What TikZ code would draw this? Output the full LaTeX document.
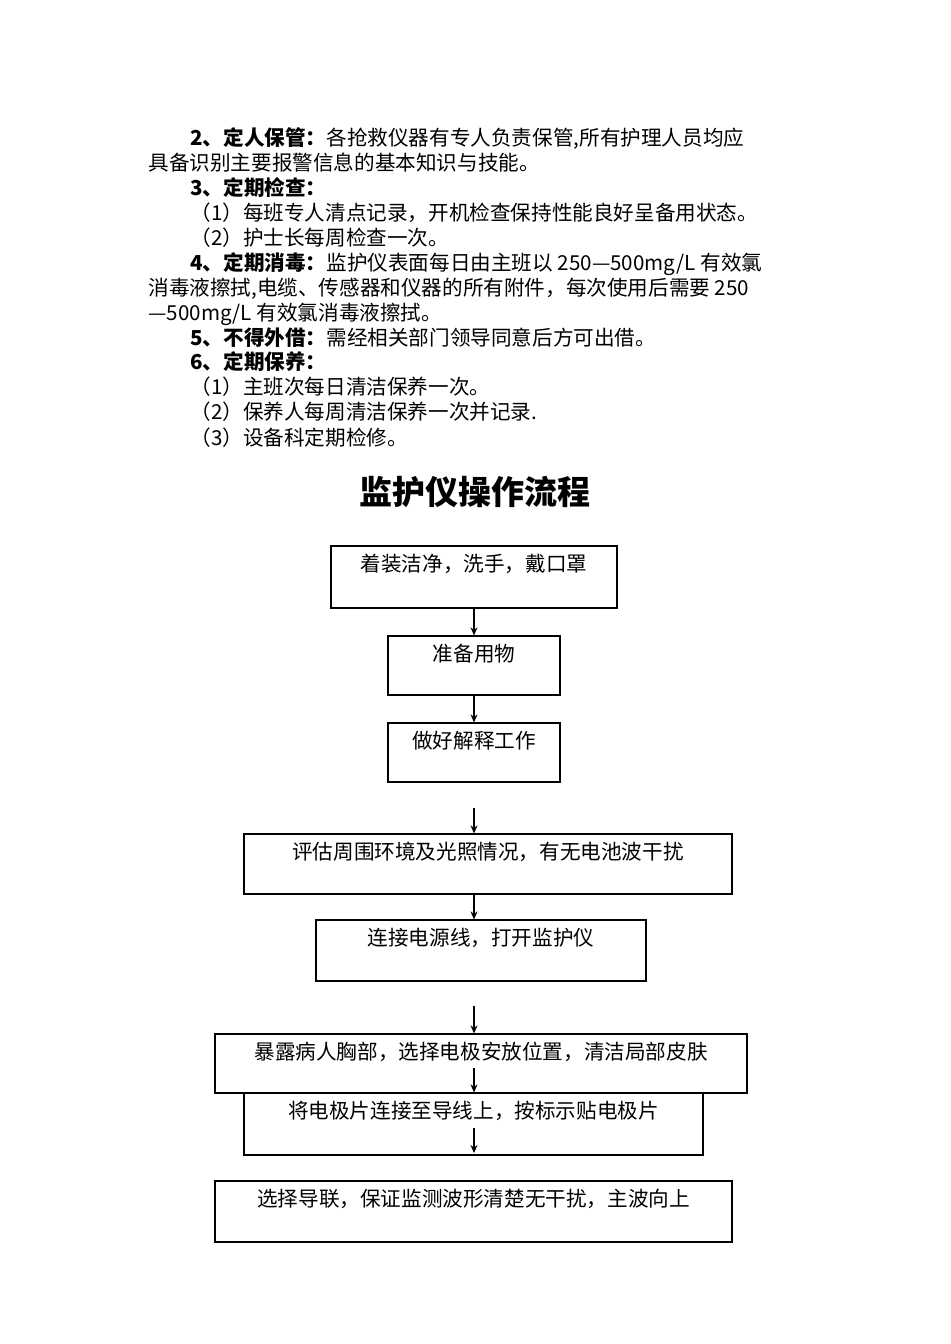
\documentclass[tikz,border=0pt]{standalone}
\usepackage{fontspec}
\setmainfont{Noto Sans CJK SC}
\newfontfamily\cjkb{Noto Sans CJK SC Bold}
\usetikzlibrary{arrows.meta}
\begin{document}
\begin{tikzpicture}[x=0.5pt,y=-0.5pt,
  txt/.style={anchor=base west,inner sep=0pt,font=\fontsize{10.3pt}{12pt}\selectfont},
  box/.style={draw,line width=0.6pt,inner sep=0pt},
  btxt/.style={anchor=north,inner sep=0pt,font=\fontsize{10.3pt}{12pt}\selectfont},
  arr/.style={-{Stealth[length=4pt,width=3.5pt]},line width=0.6pt}]
\useasboundingbox (0,0) rectangle (950,1344);
\node[txt] (l1) at (190,145) {\textbf{2、定人保管：}各抢救仪器有专人负责保管,所有护理人员均应};
\node[txt] (l2) at (148,170) {具备识别主要报警信息的基本知识与技能。};
\node[txt] (l3) at (190,195) {\textbf{3、定期检查：}};
\node[txt] (l4) at (190,220) {（1）每班专人清点记录，开机检查保持性能良好呈备用状态。};
\node[txt] (l5) at (190,245) {（2）护士长每周检查一次。};
\node[txt] (l6) at (190,270) {\textbf{4、定期消毒：}监护仪表面每日由主班以 250—500mg/L 有效氯};
\node[txt] (l7) at (148,295) {消毒液擦拭,电缆、传感器和仪器的所有附件，每次使用后需要 250};
\node[txt] (l8) at (148,320) {—500mg/L 有效氯消毒液擦拭。};
\node[txt] (l9) at (190,345) {\textbf{5、不得外借：}需经相关部门领导同意后方可出借。};
\node[txt] (l10) at (190,369) {\textbf{6、定期保养：}};
\node[txt] (l11) at (190,394) {（1）主班次每日清洁保养一次。};
\node[txt] (l12) at (190,419) {（2）保养人每周清洁保养一次并记录.};
\node[txt] (l13) at (190,445) {（3）设备科定期检修。};
\node[inner sep=0pt,font=\fontsize{16.5pt}{20pt}\selectfont\bfseries] (title) at (475,492) {监护仪操作流程};

\node[box,minimum width=143pt,minimum height=31pt] (b1) at (474,577) {};
\node[box,minimum width=86pt,minimum height=29.5pt] (b2) at (474,665.5) {};
\node[box,minimum width=86pt,minimum height=29.5pt] (b3) at (474,752.5) {};
\node[box,minimum width=244pt,minimum height=30pt] (b4) at (488,864) {};
\node[box,minimum width=165pt,minimum height=30.5pt] (b5) at (481,950.5) {};
\node[box,minimum width=266pt,minimum height=29.5pt] (b6) at (481,1063.5) {};
\node[box,minimum width=229.5pt,minimum height=31pt] (b7) at (473.5,1124) {};
\node[box,minimum width=258.5pt,minimum height=30.5pt] (b8) at (473.5,1211.5) {};

\node[btxt] (t1) at ([yshift=-4pt]b1.north) {着装洁净，洗手，戴口罩};
\node[btxt] (t2) at ([yshift=-4pt]b2.north) {准备用物};
\node[btxt] (t3) at ([yshift=-4pt]b3.north) {做好解释工作};
\node[btxt] (t4) at ([yshift=-4pt]b4.north) {评估周围环境及光照情况，有无电池波干扰};
\node[btxt] (t5) at ([yshift=-4pt]b5.north) {连接电源线，打开监护仪};
\node[btxt] (t6) at ([yshift=-4pt]b6.north) {暴露病人胸部，选择电极安放位置，清洁局部皮肤};
\node[btxt] (t7) at ([yshift=-4pt]b7.north) {将电极片连接至导线上，按标示贴电极片};
\node[btxt] (t8) at ([yshift=-4pt]b8.north) {选择导联，保证监测波形清楚无干扰，主波向上};

\coordinate (c4) at (474,808);
\coordinate (c6) at (474,1006);
\coordinate (c7) at (474,1068);
\coordinate (c9a) at (474,1128);
\coordinate (c9b) at (474,1153);
\draw[arr] (b1.south) -- (b2.north);
\draw[arr] (b2.south) -- (b3.north);
\draw[arr] (c4) -- (c4 |- b4.north);
\draw[arr] (b4.south -| c4) -- (c4 |- b5.north);
\draw[arr] (c6) -- (c6 |- b6.north);
\draw[arr] (c7) -- (c7 |- b7.north);
\draw[arr] (c9a) -- (c9b);
\end{tikzpicture}
\end{document}
